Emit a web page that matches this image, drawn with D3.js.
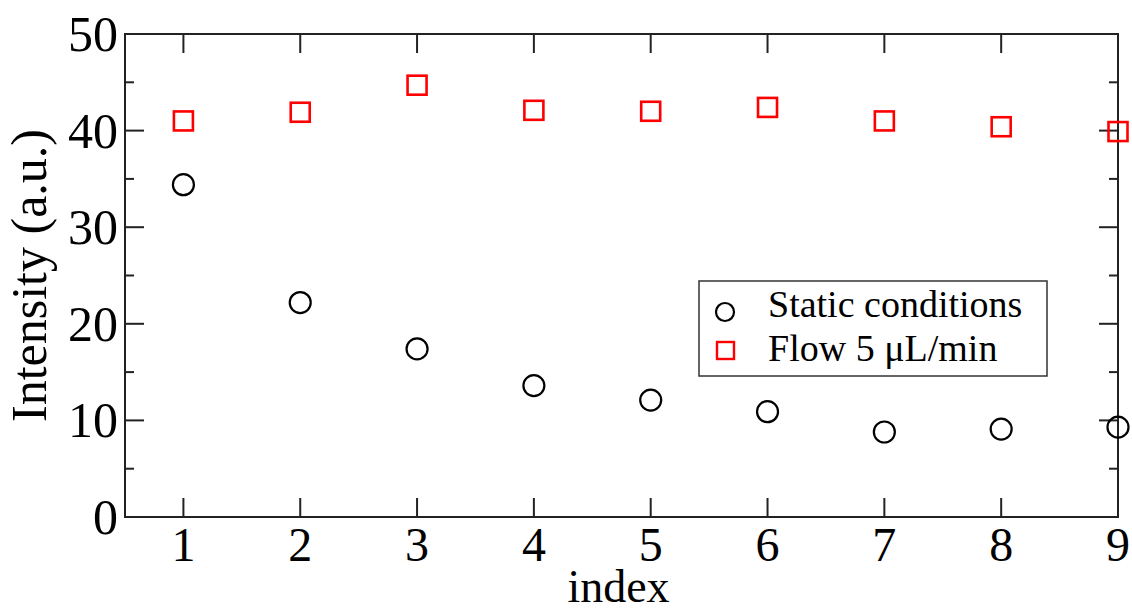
<!DOCTYPE html>
<html>
<head>
<meta charset="utf-8">
<script src="https://cdn.jsdelivr.net/npm/d3@7"></script>
<style>
  body { margin: 0; background: #fff; }
  text { font-family: "Liberation Serif", "Times New Roman", serif; }
</style>
</head>
<body>
<div id="chart"></div>
<script>
const indices = [1, 2, 3, 4, 5, 6, 7, 8, 9]
const staticVals = [34.4, 22.2, 17.4, 13.6, 12.1, 10.9, 8.8, 9.1, 9.3]
const flowVals = [41.0, 41.9, 44.7, 42.1, 42.0, 42.4, 41.0, 40.4, 39.9]
const yTicks = [0, 10, 20, 30, 40, 50]
const yMinor = [5, 15, 25, 35, 45]
const seriesNames = ['Static conditions', 'Flow 5 \u03bcL/min']

const w = 1132
const h = 612
const m = { left: 125, right: 14, top: 34, bottom: 95 }

const svg = d3.select('#chart').append('svg')
    .attr('width', w)
    .attr('height', h)

const x = d3.scaleLinear().domain([0.5, 9]).range([m.left, w - m.right])
const y = d3.scaleLinear().domain([0, 50]).range([h - m.bottom, m.top])

const x0 = x.range()[0], x1 = x.range()[1]
const y0 = y.range()[0], y1 = y.range()[1]

// ticks on all four sides, drawn inward
const g = svg.append('g').attr('stroke', '#222').attr('stroke-width', 2)
indices.forEach(v => {
    g.append('line').attr('x1', x(v)).attr('x2', x(v)).attr('y1', y0).attr('y2', y0 - 19)
    g.append('line').attr('x1', x(v)).attr('x2', x(v)).attr('y1', y1).attr('y2', y1 + 19)
})
yTicks.forEach(v => {
    g.append('line').attr('x1', x0).attr('x2', x0 + 19).attr('y1', y(v)).attr('y2', y(v))
    g.append('line').attr('x1', x1).attr('x2', x1 - 19).attr('y1', y(v)).attr('y2', y(v))
})
yMinor.forEach(v => {
    g.append('line').attr('x1', x0).attr('x2', x0 + 9).attr('y1', y(v)).attr('y2', y(v))
    g.append('line').attr('x1', x1).attr('x2', x1 - 9).attr('y1', y(v)).attr('y2', y(v))
})

// frame
svg.append('rect')
    .attr('x', x0).attr('y', y1)
    .attr('width', x1 - x0).attr('height', y0 - y1)
    .attr('fill', 'none').attr('stroke', '#222').attr('stroke-width', 2)

// tick labels
svg.selectAll('.xl').data(indices).enter().append('text')
    .attr('x', d => x(d)).attr('y', y0 + 44)
    .attr('text-anchor', 'middle')
    .attr('font-size', 48)
    .text(d => d)

svg.selectAll('.yl').data(yTicks).enter().append('text')
    .attr('x', x0 - 7).attr('y', d => y(d) + 17)
    .attr('text-anchor', 'end')
    .attr('font-size', 50)
    .text(d => d)

// axis titles
svg.append('text')
    .attr('x', (x0 + x1) / 2 - 3).attr('y', 602)
    .attr('text-anchor', 'middle')
    .attr('font-size', 46)
    .text('index')

svg.append('text')
    .attr('transform', `translate(46, ${(y0 + y1) / 2}) rotate(-90)`)
    .attr('text-anchor', 'middle')
    .attr('font-size', 50)
    .text('Intensity (a.u.)')

// data
svg.selectAll('.st').data(indices).enter().append('circle')
    .attr('cx', d => x(d))
    .attr('cy', (d, i) => y(staticVals[i]))
    .attr('r', 10.5)
    .attr('fill', 'none').attr('stroke', '#000').attr('stroke-width', 2.2)

svg.selectAll('.fl').data(indices).enter().append('rect')
    .attr('x', d => x(d) - 9.5)
    .attr('y', (d, i) => y(flowVals[i]) - 9.5)
    .attr('width', 19).attr('height', 19)
    .attr('fill', 'none').attr('stroke', '#ff0000').attr('stroke-width', 2.6)

// legend
const lg = svg.append('g').attr('transform', 'translate(699, 281)')
lg.append('rect')
    .attr('width', 348).attr('height', 95)
    .attr('fill', '#fff').attr('stroke', '#333').attr('stroke-width', 1.5)
lg.append('circle')
    .attr('cx', 26).attr('cy', 31).attr('r', 9)
    .attr('fill', 'none').attr('stroke', '#000').attr('stroke-width', 2.2)
lg.append('rect')
    .attr('x', 18).attr('y', 61).attr('width', 17).attr('height', 17)
    .attr('fill', 'none').attr('stroke', '#ff0000').attr('stroke-width', 2.4)
lg.selectAll('.lt').data(seriesNames).enter().append('text')
    .attr('x', 69).attr('y', (d, i) => 36 + i * 44)
    .attr('font-size', 38)
    .text(d => d)
</script>
</body>
</html>
